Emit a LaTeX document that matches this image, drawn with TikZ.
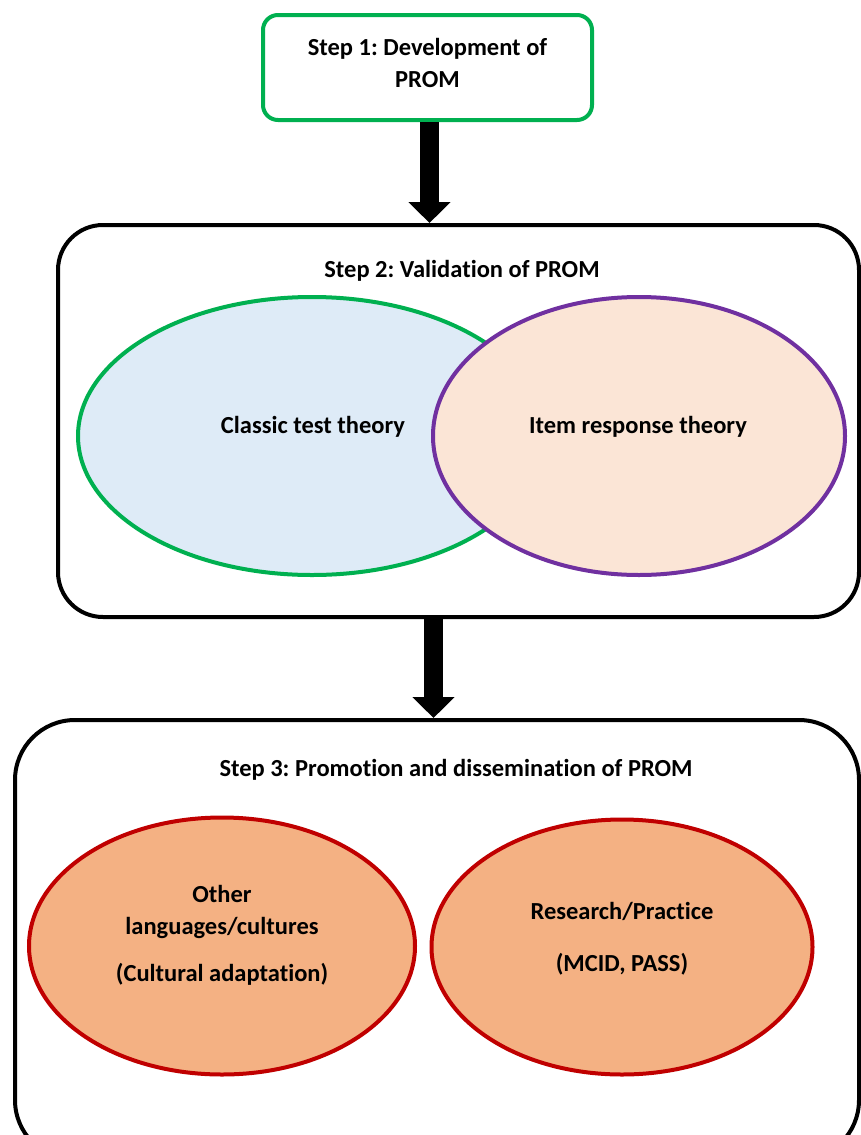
\documentclass[tikz,border=0pt]{standalone}
\usepackage{fontspec}
\setmainfont{Carlito}[Ligatures=NoCommon]
\usetikzlibrary{shapes.geometric,arrows.meta}
\definecolor{cgreen}{HTML}{00B050}
\definecolor{cpurple}{HTML}{7030A0}
\definecolor{cblue}{HTML}{DEEBF7}
\definecolor{cpeach}{HTML}{FBE5D6}
\definecolor{corange}{HTML}{F4B183}
\definecolor{cred}{HTML}{C00000}
\frenchspacing
\begin{document}
\begin{tikzpicture}[x=1pt,y=-1pt,
  txt/.style={font=\bfseries\fontsize{24.5}{32}\selectfont, align=center, inner sep=0pt},
  stepbox/.style={draw=black, line width=4pt, rectangle, inner sep=0pt},
  oval/.style={ellipse, line width=4pt, inner sep=0pt},
  bigarrow/.style={line width=19pt, -{Triangle[width=41pt,length=21pt]}}]
\clip (0,0) rectangle (861,1135);
\fill[white] (0,0) rectangle (861,1135);
% Step 1
\node[stepbox, draw=cgreen, rounded corners=15pt, minimum width=329pt, minimum height=105pt] (s1) at (427.5,67.5) {};
\node[txt] (s1t) at (427.5,63) {Step 1: Development of\\PROM};
% Step 2
\node[stepbox, rounded corners=45pt, minimum width=801pt, minimum height=392pt] (s2) at (458.5,421) {};
\node[txt] (s2t) at (462,271) {Step 2: Validation of PROM};
\node[oval, draw=cgreen, fill=cblue, minimum width=468pt, minimum height=278pt] (e1) at (312,436) {};
\node[oval, draw=cpurple, fill=cpeach, minimum width=412pt, minimum height=278pt] (e2) at (639,436) {};
\node[txt] (e1t) at (313,427) {Classic test theory};
\node[txt] (e2t) at (638,427) {Item response theory};
% Step 3
\node[stepbox, rounded corners=60pt, minimum width=844pt, minimum height=440pt] (s3) at (437,940) {};
\node[txt] (s3t) at (456,770) {Step 3: Promotion and dissemination of PROM};
\node[oval, draw=cred, fill=corange, minimum width=386pt, minimum height=257pt] (e3) at (222,946) {};
\node[oval, draw=cred, fill=corange, minimum width=381pt, minimum height=255pt] (e4) at (622,947) {};
\node[txt] (e3t) at (222,935) {Other\\languages/cultures\\[15pt](Cultural adaptation)};
\node[txt] (e4t) at (622,939) {Research/Practice\\[20pt](MCID, PASS)};
% arrows
\coordinate (a1s) at ([xshift=2pt]s1.south);
\coordinate (a2s) at ([xshift=-25pt]s2.south);
\draw[bigarrow] (a1s) -- (a1s |- s2.north);
\draw[bigarrow] (a2s) -- (a2s |- s3.north);
\end{tikzpicture}
\end{document}
